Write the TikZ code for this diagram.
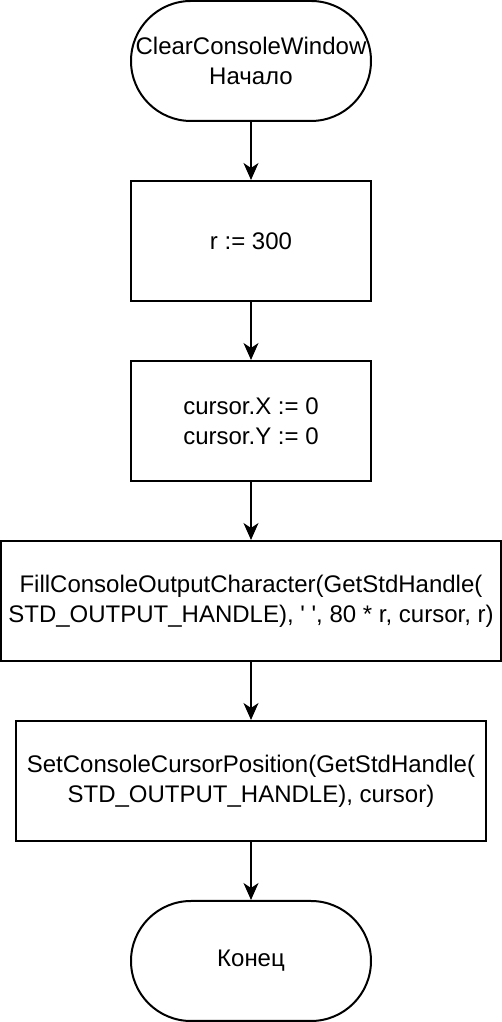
\documentclass[tikz,border=0pt]{standalone}
\usepackage{fontspec}
\setmainfont{Liberation Sans}
\newfontfamily\plainq{Liberation Sans}
\usetikzlibrary{arrows.meta}
\begin{document}
\begin{tikzpicture}[x=1pt,y=1pt,
  every node/.style={font=\fontsize{24}{30}\selectfont, align=center, inner sep=0pt, line width=2pt},
  proc/.style={draw, rectangle, minimum height=120pt},
  term/.style={draw, rectangle, rounded corners=60pt, minimum width=240pt, minimum height=120pt},
  arr/.style={line width=2pt, -{Stealth[length=17pt,width=15pt,inset=5pt]}}]
\useasboundingbox (0,0) rectangle (502,1022);
\node[term] (t1) at (251,961) {ClearConsoleWindow\\Начало};
\node[proc, minimum width=240pt] (r1) at (251,781) {r := 300};
\node[proc, minimum width=240pt] (r2) at (251,601) {cursor.X := 0\\cursor.Y := 0};
\node[proc, minimum width=500pt] (r3) at (251,421) {FillConsoleOutputCharacter(GetStdHandle(\\STD\_OUTPUT\_HANDLE), {\plainq ' '}, 80 * r, cursor, r)};
\node[proc, minimum width=470pt] (r4) at (251,241) {SetConsoleCursorPosition(GetStdHandle(\\STD\_OUTPUT\_HANDLE), cursor)};
\node[term] (t2) at (251,61) {Конец};
\draw[arr] (t1) -- (r1);
\draw[arr] (r1) -- (r2);
\draw[arr] (r2) -- (r3);
\draw[arr] (r3) -- (r4);
\draw[arr] (r4) -- (t2);
\end{tikzpicture}
\end{document}
